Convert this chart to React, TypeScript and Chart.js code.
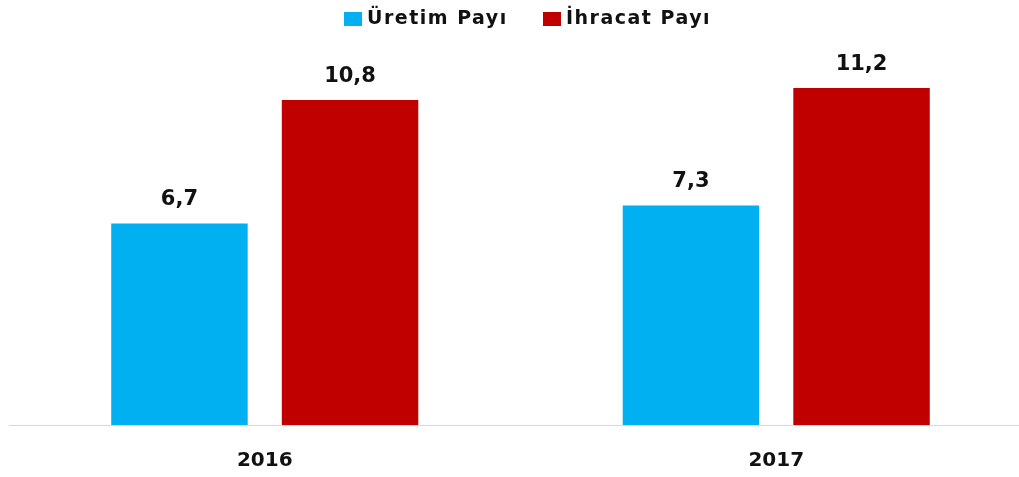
import React, { useEffect, useRef } from "react";
import { Chart, registerables } from "chart.js";

Chart.register(...registerables);

const categories = ["2016", "2017"];
const seriesNames = ["Üretim Payı", "İhracat Payı"];
const uretimPayi = [6.7, 7.3];
const ihracatPayi = [10.8, 11.2];
const seriesColors = ["#00B0F0", "#C00000"];
const yMax = 12;

const FONT = "'DejaVu Sans', 'Noto Sans', sans-serif";

const valueLabels = {
  id: "valueLabels",
  afterDatasetsDraw(chart: any) {
    const ctx = chart.ctx;
    ctx.save();
    ctx.font = `bold 21px ${FONT}`;
    ctx.fillStyle = "#111111";
    ctx.textAlign = "center";
    ctx.textBaseline = "alphabetic";
    chart.data.datasets.forEach((ds: any, di: number) => {
      const meta = chart.getDatasetMeta(di);
      meta.data.forEach((el: any, i: number) => {
        const v = ds.data[i] as number;
        ctx.fillText(v.toFixed(1).replace(".", ","), el.x, el.y - 18);
      });
    });
    ctx.restore();
  },
};

const legendLefts = [344, 543];

export default function App() {
  const ref = useRef<HTMLCanvasElement>(null);
  useEffect(() => {
    if (!ref.current) return;
    const chart = new Chart(ref.current, {
      type: "bar",
      data: {
        labels: categories,
        datasets: [
          {
            label: seriesNames[0],
            data: uretimPayi,
            backgroundColor: seriesColors[0],
            categoryPercentage: 0.667,
            barPercentage: 0.8,
          },
          {
            label: seriesNames[1],
            data: ihracatPayi,
            backgroundColor: seriesColors[1],
            categoryPercentage: 0.667,
            barPercentage: 0.8,
          },
        ],
      },
      options: {
        animation: false,
        responsive: true,
        maintainAspectRatio: false,
        layout: { padding: { left: 9, right: 8, top: 64, bottom: 0 } },
        plugins: {
          legend: { display: false },
          tooltip: { enabled: false },
        },
        scales: {
          x: {
            grid: { display: false, drawTicks: false },
            border: { display: true, color: "#d9d9d9", width: 1 },
            ticks: {
              padding: 24,
              color: "#111111",
              font: { family: FONT, size: 20, weight: "bold" },
            },
          },
          y: {
            display: false,
            min: 0,
            max: yMax,
          },
        },
      },
      plugins: [valueLabels],
    });
    return () => chart.destroy();
  }, []);
  return (
    <div style={{ position: "fixed", left: 0, top: 0, width: 1040, height: 497, background: "#fff" }}>
      <canvas ref={ref} />
      {seriesNames.map((name, i) => (
        <div
          key={name}
          style={{
            position: "absolute",
            left: legendLefts[i],
            top: 8,
            height: 18,
            display: "flex",
            alignItems: "center",
            whiteSpace: "nowrap",
            fontFamily: FONT,
            fontWeight: "bold",
            fontSize: 19,
            lineHeight: "18px",
            letterSpacing: "1.5px",
            color: "#111111",
          }}
        >
          <span
            style={{
              display: "inline-block",
              width: 18,
              height: 14,
              marginTop: 3,
              marginRight: 5,
              background: seriesColors[i],
            }}
          />
          <span>{name}</span>
        </div>
      ))}
    </div>
  );
}
